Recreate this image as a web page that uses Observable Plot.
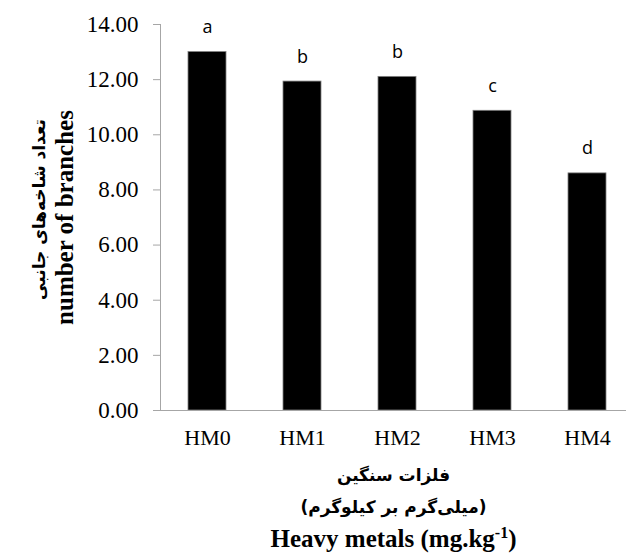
<!DOCTYPE html>
<html><head><meta charset="utf-8">
<script src="https://cdn.jsdelivr.net/npm/d3@7"></script>
<script src="https://cdn.jsdelivr.net/npm/@observablehq/plot@0.6"></script>
<style>body{margin:0;background:#fff;overflow:hidden}</style>
</head><body><div id="chart"></div>
<script>
const categories = ["HM0", "HM1", "HM2", "HM3", "HM4"];
const values = [13.0, 11.93, 12.10, 10.87, 8.60];
const letters = ["a", "b", "b", "c", "d"];
const yTicks = [0, 2, 4, 6, 8, 10, 12, 14];
const yTitleFa = "تعداد شاخه‌های جانبی";
const yTitleEn = "number of branches";
const xTitleFa1 = "فلزات سنگین";
const xTitleFa2 = "(میلی‌گرم بر کیلوگرم)";
const xTitleEn = "Heavy metals (mg.kg-1)";

const data = categories.map((c, i) => ({category: c, value: values[i], letter: letters[i]}));
const axisGray = "#a6a6a6";
const serif = "Liberation Serif, Times New Roman, serif";

const plot = Plot.plot({
  width: 626, height: 560,
  marginTop: 24, marginBottom: 150, marginLeft: 160, marginRight: 0,
  style: {fontFamily: serif, background: "#fff", color: "#000"},
  x: {domain: categories, range: [160, 635], paddingInner: 0.6, paddingOuter: 0.3, label: null},
  y: {domain: [0, 14], label: null},
  marks: [
    Plot.frame({anchor: "left", stroke: axisGray}),
    Plot.barY(data, {x: "category", y: "value", fill: "#000", stroke: "#7f7f7f", strokeWidth: 0.8}),
    Plot.ruleY([0], {stroke: axisGray}),
    Plot.axisY({ticks: yTicks, tickFormat: d3.format(".2f"), tickSize: 7, tickPadding: 15, stroke: axisGray, fill: "#000", fontSize: 23, fontFamily: serif, label: null}),
    Plot.axisX({tickSize: 0, tickPadding: 19, fill: "#000", fontSize: 22, fontFamily: serif, label: null}),
    Plot.text(data, {x: "category", y: "value", text: "letter", dy: -19, lineAnchor: "bottom", fontSize: 18, fontFamily: "Open Sans", fill: "#000"}),
    Plot.text([yTitleFa], {frameAnchor: "left", text: d => d, rotate: -90, textAnchor: "middle", lineAnchor: "middle", dx: -121, dy: -8, fontWeight: "bold", fontSize: 17, fontFamily: "DejaVu Sans", fill: "#000"}),
    Plot.text([yTitleEn], {frameAnchor: "left", text: d => d, rotate: -90, textAnchor: "middle", lineAnchor: "middle", dx: -96, fontWeight: "bold", fontSize: 25, fontFamily: serif, fill: "#000"}),
    Plot.text([xTitleFa1], {frameAnchor: "bottom", text: d => d, lineAnchor: "middle", dy: 65, fontWeight: "bold", fontSize: 17, fontFamily: "DejaVu Sans", fill: "#000"}),
    Plot.text([xTitleFa2], {frameAnchor: "bottom", text: d => d, lineAnchor: "middle", dy: 97, fontWeight: "bold", fontSize: 17, fontFamily: "DejaVu Sans", fill: "#000"}),
    Plot.text([xTitleEn], {frameAnchor: "bottom", text: d => d, lineAnchor: "middle", dy: 128, fontWeight: "bold", fontSize: 25, fontFamily: serif, fill: "#000"})
  ]
});

d3.select(plot).selectAll("text").filter(function() { return this.textContent === xTitleEn; }).each(function() {
  const t = d3.select(this);
  t.text(null);
  t.append("tspan").text("Heavy metals (mg.kg");
  t.append("tspan").attr("font-size", "16").attr("dy", "-9").text("-1");
  t.append("tspan").attr("dy", "9").text(")");
});

document.getElementById("chart").appendChild(plot);
</script>
</body></html>
